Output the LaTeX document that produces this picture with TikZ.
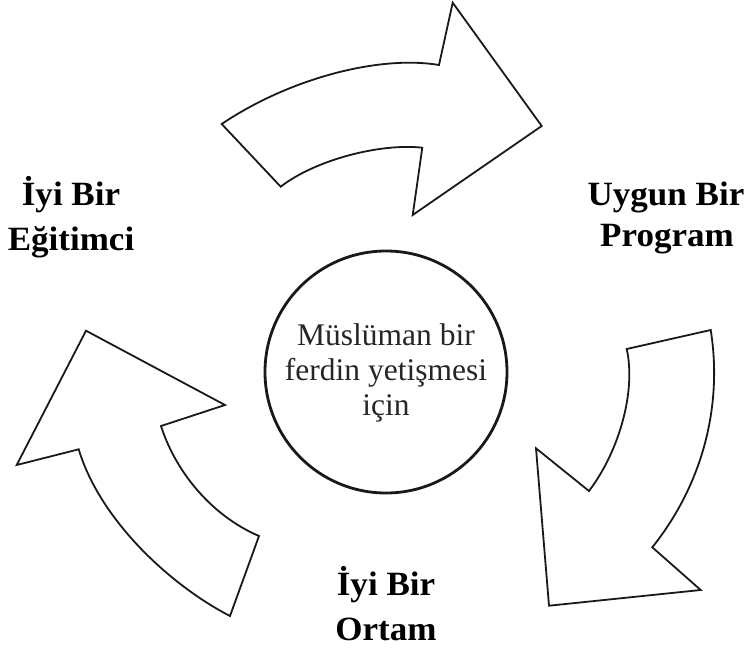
\documentclass[tikz,border=0pt]{standalone}
\usepackage{fontspec}
\setmainfont{Liberation Serif}
\newfontfamily\boldlab[FakeStretch=1.03]{Liberation Serif}
\begin{document}
\begin{tikzpicture}[x=1pt,y=-1pt,
  arrowshape/.style={draw=black!90, line width=1.8pt, line join=miter, fill=white},
  lab/.style={font=\boldlab\bfseries\fontsize{34}{45}\selectfont, anchor=base, inner sep=0pt},
  core/.style={font=\fontsize{31.5}{35}\selectfont, anchor=base, inner sep=0pt, text=black!85},
  ring/.style={draw=black!90, circle, line width=2.8pt, minimum size=242pt, inner sep=0pt}]
\useasboundingbox (0,0) rectangle (747,648);

% top arrow
\draw[arrowshape] (221.7,124) .. controls (290,78) and (380,55) .. (439,65)
  -- (452.7,2.7) -- (541.7,126) -- (412.7,215) -- (422.3,147.7)
  .. controls (380,143) and (315,160) .. (280.7,186.7)
  -- cycle;

% right arrow
\draw[arrowshape] (626.7,349) -- (710.7,330)
  .. controls (722,400) and (706,480) .. (652.3,547.3)
  -- (700.7,590) -- (549,605.7) -- (536,448.3) -- (589,491)
  .. controls (620,450) and (636,390) .. (626.7,349)
  -- cycle;

% left arrow
\draw[arrowshape] (86,330.7) -- (225,405) -- (161,426)
  .. controls (175,470) and (210,515) .. (259,536)
  -- (230,616)
  .. controls (170,585) and (100,520) .. (78.7,449.3)
  -- (16.7,465) -- cycle;

% centre
\node[ring] (hub) at (386,372) {};
\node[core] (c1) at (386,345) {Müslüman bir};
\node[core] (c2) at (386,380) {ferdin yetişmesi};
\node[core] (c3) at (386,415) {için};

% labels
\node[lab] (e1) at (71,205) {İyi Bir};
\node[lab] (e2) at (71,250.5) {Eğitimci};
\node[lab] (p1) at (666,205) {Uygun Bir};
\node[lab] (p2) at (667,246) {Program};
\node[lab] (o1) at (386,595) {İyi Bir};
\node[lab] (o2) at (386,640) {Ortam};
\end{tikzpicture}
\end{document}
